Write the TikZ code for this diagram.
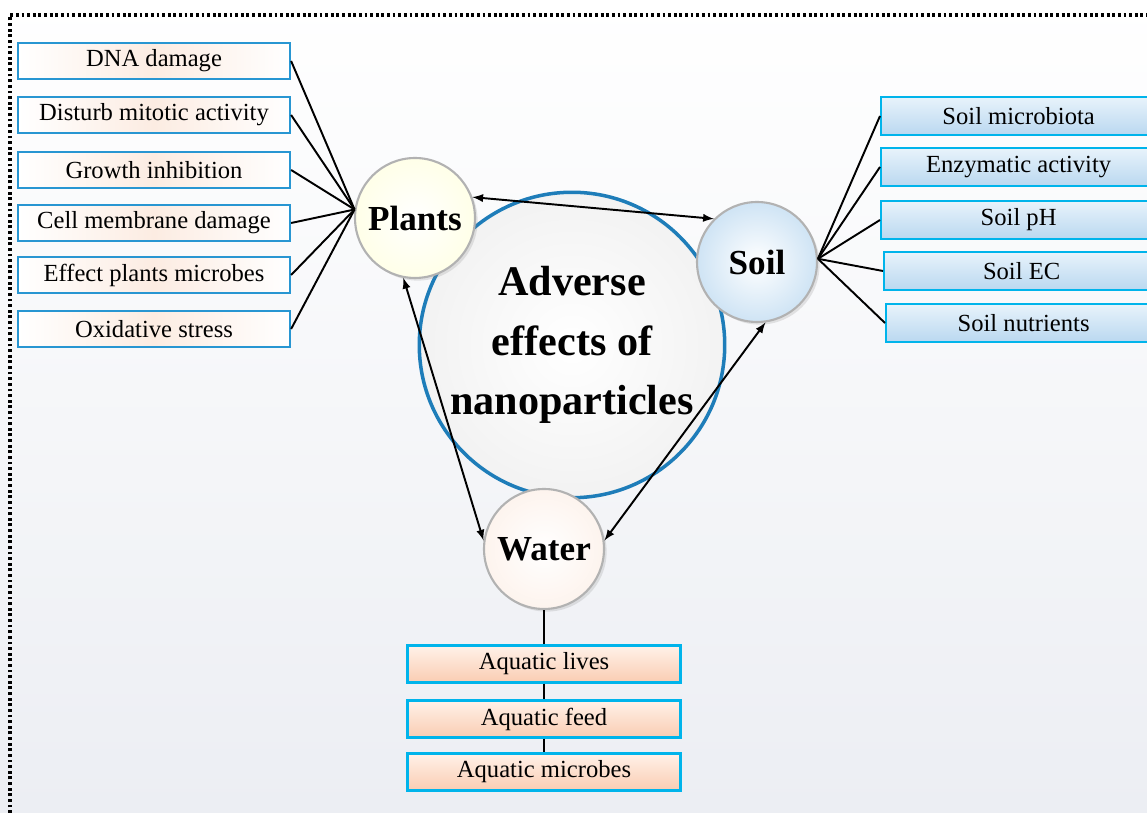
\documentclass[tikz,border=0pt]{standalone}
\usepackage{fontspec}
\setmainfont{Liberation Serif}
\usetikzlibrary{shadows}
\definecolor{bgbot}{RGB}{236,238,243}
\definecolor{ledge}{RGB}{40,150,210}
\definecolor{redge}{RGB}{0,180,235}
\definecolor{lfill}{RGB}{252,236,226}
\definecolor{rtop}{RGB}{232,243,251}
\definecolor{rbot}{RGB}{186,216,240}
\definecolor{btop}{RGB}{255,242,233}
\definecolor{bbot}{RGB}{250,204,178}
\definecolor{hubblue}{RGB}{30,125,185}

\begin{document}
\begin{tikzpicture}
    [
        x=0.02cm, y=-0.02cm,
        lbox/.style={draw=ledge, line width=1.3pt, minimum width=5.44cm, minimum height=0.72cm,
            left color=white, right color=white, middle color=lfill, font=\fontsize{14}{16}\selectfont},
        rbox/.style={draw=redge, line width=1.3pt, minimum width=5.5cm, minimum height=0.76cm, anchor=west,
            top color=rtop, bottom color=rbot, font=\fontsize{14}{16}\selectfont},
        bbox/.style={draw=redge, line width=1.3pt, minimum width=5.46cm, minimum height=0.74cm,
            top color=btop, bottom color=bbot, font=\fontsize{14}{16}\selectfont},
        ball/.style={circle, minimum size=2.4cm, inner sep=0pt, draw=gray!60, line width=1.2pt,
            font=\fontsize{20}{24}\selectfont\bfseries,
            drop shadow={opacity=0.2, shadow xshift=1.5pt, shadow yshift=-1.5pt}},
        fan/.style={line width=1.1pt},
        link/.style={<->, >=latex, line width=1.1pt}
    ]
    \clip (0,0) rectangle (1147,813);
    \shade[top color=white, bottom color=bgbot] (0,0) rectangle (1147,813);
    \draw[line width=2pt, dash pattern=on 1.6pt off 1.6pt] (10,813) -- (10,15) -- (1147,15);

    % centre and the three receptors
    \node[circle, minimum size=5.6cm, draw=hubblue, line width=2pt, inner color=white, outer color=gray!10,
          align=center, font=\fontsize{24}{34}\selectfont\bfseries] (hub) at (572,345)
          {Adverse\\effects of\\nanoparticles};
    \node[ball, inner color=white, outer color=yellow!9!white] (plants) at (415,218) {Plants};
    \node[ball, inner color=white, outer color=rbot!70] (soil) at (757,262) {Soil};
    \node[ball, inner color=white, outer color=lfill!60] (water) at (544,549) {Water};

    % plant effects
    \foreach \y/\t [count=\i] in {61/DNA damage, 115/Disturb mitotic activity, 170/Growth inhibition,
        223/Cell membrane damage, 275/Effect plants microbes, 329/Oxidative stress}
    {
        \node[lbox] (p\i) at (154,\y) {\t};
        \draw[fan] (p\i.east) -- (plants.172);
    }

    % soil effects
    \foreach \x/\y/\t [count=\i] in {880/116/Soil microbiota, 880/167/Enzymatic activity, 880/220/Soil pH,
        883/271/Soil EC, 885/323/Soil nutrients}
    {
        \node[rbox] (s\i) at (\x,\y) {\t};
        \draw[fan] (s\i.west) -- (soil.3);
    }

    % water effects
    \node[bbox] (w1) at (544,664) {Aquatic lives};
    \node[bbox] (w2) at (544,719) {Aquatic feed};
    \node[bbox] (w3) at (544,772) {Aquatic microbes};
    \draw[fan] (water.south) -- (w1.north);
    \draw[fan] (w1.south) -- (w2.north);
    \draw[fan] (w2.south) -- (w3.north);

    \draw[link] (plants.20) -- (soil.135);
    \draw[link] (plants.259) -- (water.172);
    \draw[link] (soil.278) -- (water.8);
\end{tikzpicture}
\end{document}
